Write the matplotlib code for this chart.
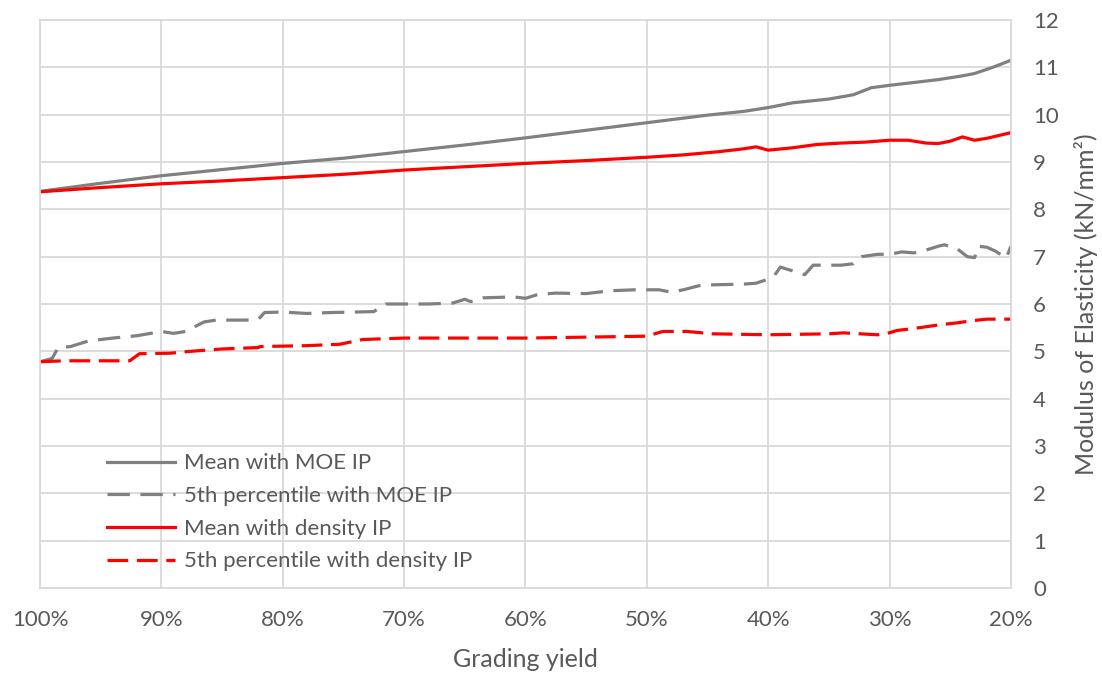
import matplotlib.pyplot as plt

plt.rcParams["font.family"] = ["Lato", "DejaVu Sans"]

# Grading yield (%) and modulus of elasticity (kN/mm2) for each grading scenario
yield_mean_moe = [100, 95, 90, 85, 80, 75, 70, 65, 60, 55, 50, 45, 42, 40, 38,
                  35, 33, 31.5, 30, 28, 26, 24, 23, 21.5, 20]
mean_moe = [8.38, 8.55, 8.71, 8.84, 8.97, 9.08, 9.22, 9.36, 9.51, 9.67, 9.83,
            9.99, 10.07, 10.15, 10.25, 10.33, 10.42, 10.57, 10.62, 10.68,
            10.74, 10.82, 10.87, 11.0, 11.15]

yield_p5_moe = [100, 99, 98.5, 97.5, 96, 94, 92, 90, 89, 88, 86.5, 85.5, 83,
                82, 81.5, 80, 78, 76, 74, 72.5, 71.5, 68, 66, 65, 64.5, 63.5,
                61, 60, 59, 57.5, 55, 53, 51, 49, 48, 47, 45.5, 42, 41, 40.3,
                39.5, 39, 38, 37, 36.3, 34, 33, 32.3, 31, 30, 29, 28, 27, 26,
                25.5, 24.5, 23.6, 23, 22.7, 22, 21.3, 20.4, 20]
p5_moe = [4.78, 4.85, 5.08, 5.1, 5.22, 5.28, 5.33, 5.42, 5.38, 5.42, 5.62,
          5.66, 5.66, 5.68, 5.82, 5.83, 5.8, 5.82, 5.83, 5.84, 6.0, 6.0, 6.02,
          6.1, 6.05, 6.13, 6.15, 6.12, 6.2, 6.23, 6.22, 6.28, 6.3, 6.3, 6.25,
          6.3, 6.4, 6.42, 6.44, 6.5, 6.6, 6.78, 6.7, 6.62, 6.82, 6.82, 6.85,
          7.0, 7.05, 7.05, 7.1, 7.08, 7.14, 7.22, 7.25, 7.18, 7.0, 6.98, 7.22,
          7.2, 7.12, 6.97, 7.22]

yield_mean_density = [100, 95, 90, 85, 80, 75, 70, 65, 60, 55, 50, 47, 44, 42,
                      41, 40, 38, 36, 34, 32, 30, 28.5, 27, 26, 25, 24, 23,
                      22, 20]
mean_density = [8.37, 8.46, 8.54, 8.6, 8.67, 8.74, 8.83, 8.9, 8.97, 9.03, 9.1,
                9.15, 9.22, 9.28, 9.32, 9.25, 9.3, 9.37, 9.4, 9.42, 9.46,
                9.46, 9.4, 9.39, 9.44, 9.53, 9.46, 9.5, 9.62]

yield_p5_density = [100, 98, 92.6, 91.8, 89.3, 87.6, 85, 82, 81.9, 78, 75.3,
                    73.4, 70, 65, 60, 55, 50, 48.7, 46.7, 44.6, 40, 35, 33.8,
                    31, 30.3, 29.4, 27.8, 25.9, 24.5, 23.1, 22, 20]
p5_density = [4.78, 4.8, 4.8, 4.95, 4.96, 5.0, 5.05, 5.08, 5.1, 5.12, 5.15,
              5.25, 5.28, 5.28, 5.28, 5.3, 5.32, 5.42, 5.42, 5.37, 5.35, 5.37,
              5.39, 5.35, 5.37, 5.44, 5.49, 5.56, 5.6, 5.65, 5.68, 5.68]

x_ticks = [100, 90, 80, 70, 60, 50, 40, 30, 20]

text_color = "#595959"
grid_color = "#d9d9d9"
gray = "#808080"
red = "#ff0000"

fig = plt.figure(figsize=(11.02, 6.75), dpi=100)
ax = fig.add_axes([40 / 1102, 87 / 675, 971 / 1102, 568 / 675])

ax.plot(yield_mean_moe, mean_moe, color=gray, lw=2.3,
        label="Mean with MOE IP")
ax.plot(yield_p5_moe, p5_moe, color=gray, lw=2.3, linestyle=(0, (7, 3.3)),
        label="5th percentile with MOE IP")
ax.plot(yield_mean_density, mean_density, color=red, lw=2.3,
        label="Mean with density IP")
ax.plot(yield_p5_density, p5_density, color=red, lw=2.3,
        linestyle=(0, (6.5, 2.7)), label="5th percentile with density IP")

# Axes run from full yield down to 20%, values on the right-hand side
ax.set_xlim(100, 20)
ax.set_ylim(0, 12)
ax.set_xticks(x_ticks)
ax.set_xticklabels([f"{v}%" for v in x_ticks])
ax.set_yticks(range(0, 13))
ax.yaxis.tick_right()
ax.yaxis.set_label_position("right")
ax.tick_params(axis="both", length=0, labelsize=16, colors=text_color)
ax.tick_params(axis="x", pad=16)
ax.tick_params(axis="y", pad=16)

ax.grid(True, color=grid_color, linewidth=1.3)
ax.set_axisbelow(True)
for spine in ax.spines.values():
    spine.set_color(grid_color)
    spine.set_linewidth(1.3)

ax.set_xlabel("Grading yield", fontsize=18, color=text_color)
ax.xaxis.set_label_coords(0.5, -0.106)
ax.set_ylabel("Modulus of Elasticity (kN/mm²)", fontsize=18, color=text_color)
ax.yaxis.set_label_coords(1.065, 0.5)

ax.legend(loc="upper left", bbox_to_anchor=(67 / 971, 0.2368),
          frameon=False, fontsize=16, handlelength=3.06, handletextpad=0.4,
          labelspacing=0.57, borderpad=0, borderaxespad=0,
          labelcolor=text_color)

plt.savefig("out.png", dpi=100)
